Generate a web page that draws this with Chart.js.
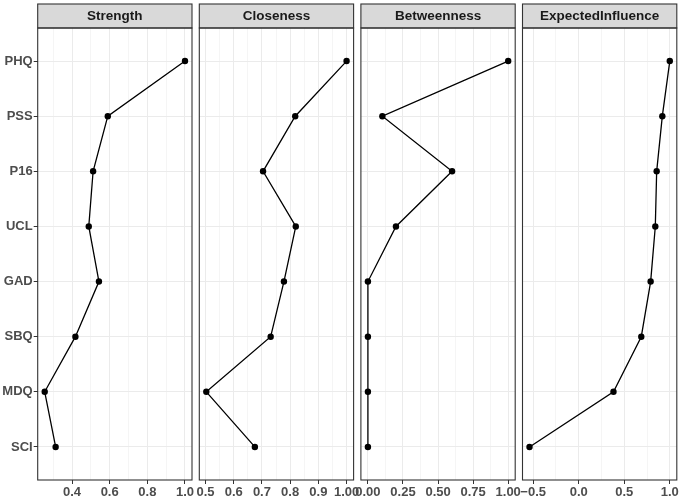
<!DOCTYPE html>
<html lang="en">
<head>
<meta charset="UTF-8">
<title>Centrality indices</title>
<style>
  html, body { margin: 0; padding: 0; background: #fff; }
  #wrap { position: relative; width: 682px; height: 498px; }
  #wrap canvas { position: absolute; left: 0; top: 0; }
</style>
</head>
<body>
<div id="wrap"></div>

<script src="https://cdn.jsdelivr.net/npm/chart.js@4"></script>
<script>
    // nodes, top to bottom
    const nodes = ['PHQ', 'PSS', 'P16', 'UCL', 'GAD', 'SBQ', 'MDQ', 'SCI'];
    const panelTitles = ['Strength', 'Closeness', 'Betweenness', 'ExpectedInfluence'];

    // values
    const strength = [1.0, 0.59, 0.512, 0.489, 0.543, 0.418, 0.255, 0.313];
    const closeness = [1.0, 0.818, 0.704, 0.82, 0.778, 0.731, 0.503, 0.675];
    const betweenness = [1.0, 0.103, 0.6, 0.2, 0, 0, 0, 0];
    const expectedInfluence = [1.0, 0.918, 0.856, 0.841, 0.79, 0.687, 0.382, -0.54];

    // x tick labels per panel
    const strengthTicks = ['0.4', '0.6', '0.8', '1.0'];
    const closenessTicks = ['0.5', '0.6', '0.7', '0.8', '0.9', '1.00'];
    const betweennessTicks = ['0.00', '0.25', '0.50', '0.75', '1.00'];
    const influenceTicks = ['\u22120.5', '0.0', '0.5', '1.0'];

    const panels = [
        { title: panelTitles[0], values: strength, ticks: strengthTicks },
        { title: panelTitles[1], values: closeness, ticks: closenessTicks },
        { title: panelTitles[2], values: betweenness, ticks: betweennessTicks },
        { title: panelTitles[3], values: expectedInfluence, ticks: influenceTicks }
    ];

    const FONT = "'Liberation Sans', Arial, sans-serif";
    const W = 682, H = 498;
    const firstLeft = 37.7, panelWidth = 154.3, gap = 7.3;
    const stripTop = 4, plotTop = 28, xAxisHeight = 18;

    const toNum = (s) => parseFloat(s.replace('\u2212', '-'));

    // draws the grey strip on top and the dark frame around the panel
    const panelFrame = {
        id: 'panelFrame',
        afterDraw(chart, args, opts) {
            const ctx = chart.ctx;
            const a = chart.chartArea;
            const w = a.right - a.left;
            ctx.save();
            ctx.fillStyle = '#d9d9d9';
            ctx.fillRect(a.left, stripTop, w, a.top - stripTop);
            ctx.strokeStyle = '#333333';
            ctx.lineWidth = 1.1;
            ctx.strokeRect(a.left, stripTop, w, a.top - stripTop);
            ctx.strokeRect(a.left, a.top, w, a.bottom - a.top);
            ctx.fillStyle = '#1a1a1a';
            ctx.font = 'bold 13.5px ' + FONT;
            ctx.textAlign = 'center';
            ctx.textBaseline = 'middle';
            ctx.fillText(opts.title, a.left + w / 2, (stripTop + a.top) / 2 + 0.5);
            ctx.restore();
        }
    };

    const makePanel = (panel, idx) => {
        const canvas = document.createElement('canvas');
        canvas.width = W;
        canvas.height = H;
        document.getElementById('wrap').appendChild(canvas);

        const left = firstLeft + idx * (panelWidth + gap);
        const right = left + panelWidth;
        const showY = idx === 0;

        // ggplot style limits: data range padded 5% each side
        const lo = Math.min(...panel.values), hi = Math.max(...panel.values);
        const pad = (hi - lo) * 0.05;
        const xMin = lo - pad, xMax = hi + pad;

        // major ticks from the labels, minor ones half way between
        const majors = panel.ticks.map(toNum);
        const step = majors[1] - majors[0];
        const minors = [majors[0] - step / 2];
        majors.forEach(v => minors.push(v + step / 2));
        const allTicks = majors.concat(minors.filter(v => v >= xMin && v <= xMax)).sort((a, b) => a - b);
        const majorIndex = (v) => majors.findIndex(m => Math.abs(m - v) < 1e-6);

        return new Chart(canvas.getContext('2d'), {
            type: 'line',
            data: {
                datasets: [{
                    data: panel.values.map((v, i) => ({ x: v, y: i + 1 })),
                    borderColor: '#000',
                    borderWidth: 1.3,
                    pointRadius: 3.2,
                    pointBackgroundColor: '#000',
                    pointBorderWidth: 0,
                    tension: 0
                }]
            },
            options: {
                responsive: false,
                animation: false,
                devicePixelRatio: 1,
                // first panel keeps its labels inside the y axis box
                layout: { padding: { left: showY ? 0 : left, right: W - right, top: plotTop, bottom: 0 } },
                plugins: {
                    legend: { display: false },
                    tooltip: { enabled: false },
                    panelFrame: { title: panel.title }
                },
                scales: {
                    x: {
                        type: 'linear',
                        position: 'bottom',
                        min: xMin,
                        max: xMax,
                        afterBuildTicks: (scale) => { scale.ticks = allTicks.map(v => ({ value: v })); },
                        afterFit: (scale) => { scale.height = xAxisHeight; },
                        border: { display: false },
                        grid: {
                            color: (c) => majorIndex(c.tick.value) >= 0 ? '#ebebeb' : '#f5f5f5',
                            tickColor: (c) => majorIndex(c.tick.value) >= 0 ? '#333333' : 'rgba(0,0,0,0)',
                            tickLength: 4,
                            lineWidth: 1
                        },
                        ticks: {
                            autoSkip: false,
                            maxRotation: 0,
                            padding: 1,
                            color: '#4d4d4d',
                            font: { family: FONT, size: 13, weight: 'bold' },
                            callback: (v) => {
                                const k = majorIndex(v);
                                return k >= 0 ? panel.ticks[k] : '';
                            }
                        }
                    },
                    y: {
                        type: 'linear',
                        reverse: true,
                        min: 0.4,
                        max: nodes.length + 0.6,
                        afterBuildTicks: (scale) => { scale.ticks = nodes.map((n, i) => ({ value: i + 1 })); },
                        afterFit: (scale) => { scale.width = showY ? left : 0; },
                        border: { display: false },
                        grid: {
                            color: '#ebebeb',
                            tickColor: '#333333',
                            drawTicks: showY,
                            tickLength: 4
                        },
                        ticks: {
                            display: showY,
                            autoSkip: false,
                            padding: 1,
                            color: '#4d4d4d',
                            font: { family: FONT, size: 13, weight: 'bold' },
                            callback: (v) => nodes[Math.round(v) - 1]
                        }
                    }
                }
            },
            plugins: [panelFrame]
        });
    };

    panels.forEach((p, i) => makePanel(p, i));
</script>
</body>
</html>
